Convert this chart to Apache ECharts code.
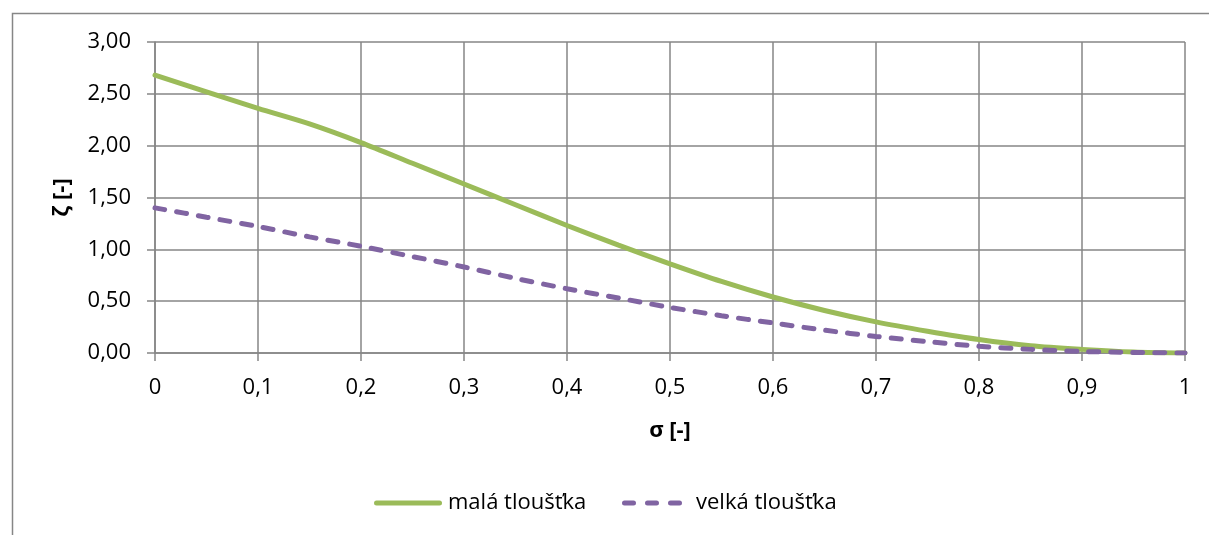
<!DOCTYPE html>
<html>
<head>
<meta charset="utf-8">
<script src="https://cdn.jsdelivr.net/npm/echarts@6/dist/echarts.min.js"></script>
<style>
html,body{margin:0;padding:0;background:#fff;}
#chart{width:1209px;height:535px;}
</style>
</head>
<body>
<div id="chart"></div>
<script>
const sigma = [0, 0.05, 0.1, 0.15, 0.2, 0.25, 0.3, 0.35, 0.4, 0.45, 0.5, 0.55, 0.6, 0.65, 0.7, 0.75, 0.8, 0.85, 0.9, 0.95, 1];
const mala = [2.68, 2.52, 2.36, 2.21, 2.03, 1.83, 1.63, 1.43, 1.23, 1.04, 0.86, 0.69, 0.54, 0.41, 0.30, 0.21, 0.13, 0.07, 0.035, 0.01, 0.00];
const velka = [1.40, 1.31, 1.22, 1.12, 1.03, 0.93, 0.83, 0.72, 0.62, 0.53, 0.44, 0.36, 0.29, 0.22, 0.16, 0.11, 0.065, 0.035, 0.015, 0.005, 0.00];
const seriesNames = ['malá tloušťka', 'velká tloušťka'];
const xName = 'σ [-]';
const yName = 'ζ [-]';

const FONT = '"Open Sans", "Noto Sans", sans-serif';
const GRID = '#868686';
const GREEN = '#9BBB59';
const PURPLE = '#8064A2';
const chart = echarts.init(document.getElementById('chart'), null, {renderer: 'canvas'});
const pair = (xs, ys) => xs.map((x, i) => [x, ys[i]]);
const legendText = {fontFamily: FONT, fontSize: 22, color: '#000'};

chart.setOption({
  animation: false,
  backgroundColor: '#fff',
  textStyle: {fontFamily: FONT, color: '#000'},
  graphic: [{
    type: 'rect', left: 10, top: 11, silent: true,
    shape: {width: 1300, height: 600},
    style: {fill: 'none', stroke: GRID, lineWidth: 1.5}
  }],
  grid: {left: 155, right: 24, top: 42, bottom: 182, containLabel: false},
  legend: [
    {
      left: 374, top: 492, padding: 0, itemWidth: 68, itemHeight: 5,
      textStyle: Object.assign({}, legendText, {padding: [0, 0, 0, 1]}),
      data: [{name: seriesNames[0], icon: 'path://M2.5,0H65.5A2.5,2.5,0,0,1,65.5,5H2.5A2.5,2.5,0,0,1,2.5,0Z'}]
    },
    {
      left: 622, top: 492, padding: 0, itemWidth: 60, itemHeight: 5,
      textStyle: Object.assign({}, legendText, {padding: [0, 0, 0, 9]}),
      data: [{name: seriesNames[1], icon: 'path://M2.5,0H11.5A2.5,2.5,0,0,1,11.5,5H2.5A2.5,2.5,0,0,1,2.5,0Z M25.5,0H34.5A2.5,2.5,0,0,1,34.5,5H25.5A2.5,2.5,0,0,1,25.5,0Z M48.5,0H57.5A2.5,2.5,0,0,1,57.5,5H48.5A2.5,2.5,0,0,1,48.5,0Z'}]
    }
  ],
  xAxis: {
    type: 'value', min: 0, max: 1, interval: 0.1,
    name: xName, nameLocation: 'middle', nameGap: 67,
    nameTextStyle: {fontFamily: FONT, fontSize: 22, fontWeight: 'bold', color: '#000'},
    axisLine: {show: true, lineStyle: {color: GRID, width: 1.5}},
    axisTick: {show: true, inside: false, length: 8, lineStyle: {color: GRID, width: 1.5}},
    axisLabel: {margin: 24, fontFamily: FONT, fontSize: 22, color: '#000',
      formatter: v => (Math.round(v * 10) / 10).toString().replace('.', ',')},
    splitLine: {show: true, lineStyle: {color: GRID, width: 1.5}}
  },
  yAxis: {
    type: 'value', min: 0, max: 3, interval: 0.5,
    name: yName, nameLocation: 'middle', nameGap: 82, nameRotate: 90,
    nameTextStyle: {fontFamily: FONT, fontSize: 22, fontWeight: 'bold', color: '#000'},
    axisLine: {show: true, lineStyle: {color: GRID, width: 1.5}},
    axisTick: {show: true, inside: false, length: 8, lineStyle: {color: GRID, width: 1.5}},
    axisLabel: {margin: 24, fontFamily: FONT, fontSize: 22, color: '#000',
      formatter: v => v.toFixed(2).replace('.', ',')},
    splitLine: {show: true, lineStyle: {color: GRID, width: 1.5}}
  },
  series: [
    {
      name: seriesNames[0], type: 'line', smooth: 0.3, symbol: 'none',
      data: pair(sigma, mala),
      itemStyle: {color: GREEN},
      lineStyle: {color: GREEN, width: 5, cap: 'round'}
    },
    {
      name: seriesNames[1], type: 'line', smooth: 0.3, symbol: 'none',
      data: pair(sigma, velka),
      itemStyle: {color: PURPLE},
      lineStyle: {color: PURPLE, width: 5, type: [10, 12], cap: 'round'}
    }
  ]
});
</script>
</body>
</html>
